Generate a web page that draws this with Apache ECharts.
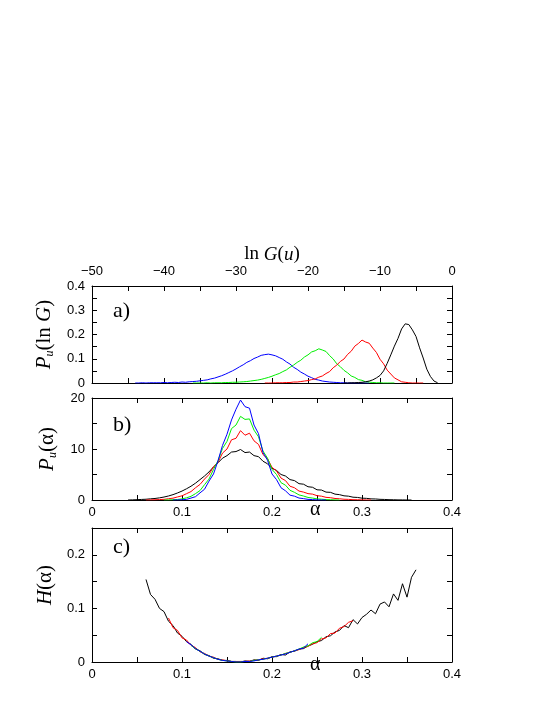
<!DOCTYPE html>
<html>
<head>
<meta charset="utf-8">
<script src="https://cdn.jsdelivr.net/npm/echarts@6/dist/echarts.min.js"></script>
<style>
  html, body { margin: 0; padding: 0; background: #fff; }
  #chart { width: 545px; height: 705px; }
</style>
</head>
<body>
<div id="chart"></div>
<script>
// ---- panel a) : P_u(ln G) against ln G ----
const lnG = [
  -45, -44.5, -44, -43.5, -43, -42.5, -42, -41.5, -41, -40.5,
  -40, -39.5, -39, -38.5, -38, -37.5, -37, -36.5, -36, -35.5,
  -35, -34.5, -34, -33.5, -33, -32.5, -32, -31.5, -31, -30.5,
  -30, -29.5, -29, -28.5, -28, -27.5, -27, -26.5, -26, -25.5,
  -25, -24.5, -24, -23.5, -23, -22.5, -22, -21.5, -21, -20.5,
  -20, -19.5, -19, -18.5, -18, -17.5, -17, -16.5, -16, -15.5,
  -15, -14.5, -14, -13.5, -13, -12.5, -12, -11.5, -11, -10.5,
  -10, -9.5, -9, -8.5, -8, -7.5, -7, -6.5, -6, -5.5,
  -5, -4.5, -4, -3.5, -3, -2.5, -2
];
const aBlue = [
  null, null, 0, 0, 0.001, 0, 0.001, 0.001, 0.001, 0.001,
  0.002, 0.001, 0.002, 0.003, 0.002, 0.004, 0.003, 0.005, 0.006, 0.007,
  0.009, 0.011, 0.013, 0.017, 0.020, 0.025, 0.030, 0.036, 0.043, 0.050,
  0.058, 0.067, 0.075, 0.085, 0.092, 0.101, 0.107, 0.114, 0.117, 0.119,
  0.116, 0.112, 0.105, 0.098, 0.087, 0.078, 0.065, 0.056, 0.045, 0.037,
  0.028, 0.022, 0.015, 0.012, 0.008, 0.006, 0.004, 0.003, 0.002, 0.001,
  0.001, 0, 0, 0, 0, 0, 0, 0, null, null,
  null, null, null, null, null, null, null, null, null, null,
  null, null, null, null, null, null, null
];
const aGreen = [
  null, null, null, null, null, null, null, null, null, null,
  null, null, null, null, null, null, null, null, 0, 0,
  0, 0, 0.001, 0, 0.001, 0.001, 0.001, 0.002, 0.002, 0.003,
  0.003, 0.004, 0.005, 0.006, 0.008, 0.010, 0.012, 0.015, 0.019, 0.023,
  0.028, 0.034, 0.039, 0.047, 0.054, 0.065, 0.074, 0.085, 0.094, 0.107,
  0.116, 0.128, 0.133, 0.141, 0.136, 0.130, 0.113, 0.099, 0.079, 0.067,
  0.052, 0.042, 0.029, 0.023, 0.014, 0.011, 0.005, 0.004, 0.002, 0.001,
  0.001, 0, 0, 0, 0, null, null, null, null, null,
  null, null, null, null, null, null, null
];
const aRed = [
  null, null, null, null, null, null, null, null, null, null,
  null, null, null, null, null, null, null, null, null, null,
  null, null, null, null, null, null, null, null, null, null,
  null, null, null, null, null, null, null, null, 0, 0,
  0, 0.001, 0.001, 0.001, 0.002, 0.002, 0.004, 0.004, 0.006, 0.008,
  0.010, 0.014, 0.017, 0.024, 0.029, 0.039, 0.047, 0.063, 0.074, 0.089,
  0.099, 0.118, 0.131, 0.152, 0.163, 0.177, 0.169, 0.164, 0.144, 0.126,
  0.098, 0.079, 0.053, 0.037, 0.021, 0.013, 0.005, 0.003, 0.001, 0,
  0, 0, 0, null, null, null, null
];
const aBlack = [
  null, null, null, null, null, null, null, null, null, null,
  null, null, null, null, null, null, null, null, null, null,
  null, null, null, null, null, null, null, null, null, null,
  null, null, null, null, null, null, null, null, null, null,
  null, null, null, null, null, null, null, null, null, null,
  null, null, null, null, null, null, null, null, null, null,
  0, 0, 0.001, 0.001, 0.002, 0.003, 0.005, 0.008, 0.013, 0.021,
  0.031, 0.050, 0.081, 0.116, 0.152, 0.184, 0.223, 0.244, 0.241, 0.219,
  0.192, 0.145, 0.103, 0.057, 0.027, 0.008, 0.001
];

// ---- panels b) and c) : shared alpha grid ----
const alpha = [
  0.03, 0.035, 0.04, 0.045, 0.05, 0.055, 0.06, 0.065, 0.07, 0.075,
  0.08, 0.085, 0.09, 0.095, 0.1, 0.105, 0.11, 0.115, 0.12, 0.125,
  0.13, 0.135, 0.14, 0.145, 0.15, 0.155, 0.16, 0.165, 0.17, 0.175,
  0.18, 0.185, 0.19, 0.195, 0.2, 0.205, 0.21, 0.215, 0.22, 0.225,
  0.23, 0.235, 0.24, 0.245, 0.25, 0.255, 0.26, 0.265, 0.27, 0.275,
  0.28, 0.285, 0.29, 0.295, 0.3, 0.305, 0.31, 0.315, 0.32, 0.325,
  0.33, 0.335, 0.34, 0.345, 0.35, 0.355, 0.36
];
// P_u(alpha)
const bBlack = [
  null, null, 0, 0.03, 0.06, 0.11, 0.15, 0.23, 0.30, 0.42,
  0.58, 0.79, 1.05, 1.38, 1.75, 2.2, 2.7, 3.3, 4.0, 4.7,
  5.5, 6.5, 7.3, 8.2, 8.7, 9.4, 9.5, 9.9, 9.3, 9.4,
  8.7, 8.5, 7.6, 7.1, 6.2, 5.8, 5.0, 4.7, 4.0, 3.8,
  3.2, 3.1, 2.6, 2.5, 2.0, 1.95, 1.55, 1.5, 1.15, 1.05,
  0.82, 0.75, 0.55, 0.5, 0.36, 0.32, 0.22, 0.2, 0.13, 0.11,
  0.06, 0.05, 0.02, 0.02, 0, 0, null
];
const bRed = [
  null, null, null, null, null, null, 0, 0.02, 0.04, 0.09,
  0.13, 0.25, 0.36, 0.60, 0.82, 1.24, 1.65, 2.4, 3.05, 4.1,
  5.0, 6.5, 7.4, 9.2, 10.0, 11.8, 12.1, 13.6, 12.7, 13.1,
  11.6, 10.9, 8.9, 8.1, 6.4, 5.7, 4.3, 3.8, 2.7, 2.4,
  1.75, 1.55, 1.25, 1.15, 0.85, 0.75, 0.52, 0.45, 0.3, 0.24,
  0.15, 0.12, 0.06, 0.05, 0.02, 0.01, 0, null, null, null,
  null, null, null, null, null, null, null
];
const bGreen = [
  null, null, null, null, null, null, null, null, null, null,
  0, 0.02, 0.05, 0.11, 0.22, 0.43, 0.72, 1.25, 1.85, 3.0,
  4.1, 6.0, 7.7, 10.1, 11.5, 14.0, 14.7, 16.4, 15.8, 15.9,
  13.7, 12.4, 9.6, 8.2, 6.0, 5.0, 3.4, 2.9, 1.9, 1.5,
  1.0, 0.78, 0.5, 0.38, 0.22, 0.16, 0.08, 0.06, 0.02, 0,
  null, null, null, null, null, null, null, null, null, null,
  null, null, null, null, null, null, null
];
const bBlue = [
  null, null, null, null, null, null, null, null, null, null,
  null, null, 0, 0.02, 0.05, 0.12, 0.38, 0.65, 1.4, 2.1,
  3.7, 5.1, 7.7, 10.7, 12.9, 15.7, 17.8, 19.6, 18.3, 18.0,
  14.7, 13.0, 9.3, 7.8, 5.1, 4.0, 2.4, 1.8, 0.95, 0.75,
  0.38, 0.27, 0.12, 0.08, 0.02, 0.01, 0, null, null, null,
  null, null, null, null, null, null, null, null, null, null,
  null, null, null, null, null, null, null
];
// H(alpha)
const cBlack = [
  null, null, null, null, null, null, 0.154, 0.126, 0.117, 0.100,
  0.094, 0.076, 0.068, 0.054, 0.048, 0.038, 0.033, 0.024, 0.021, 0.014,
  0.012, 0.007, 0.006, 0.003, 0.003, 0.001, 0.001, 0, 0.002, 0.001,
  0.004, 0.003, 0.007, 0.006, 0.010, 0.010, 0.014, 0.013, 0.019, 0.020,
  0.024, 0.025, 0.030, 0.033, 0.038, 0.040, 0.047, 0.049, 0.056, 0.059,
  0.068, 0.064, 0.079, 0.071, 0.083, 0.089, 0.097, 0.090, 0.108, 0.112,
  0.103, 0.127, 0.115, 0.146, 0.121, 0.158, 0.172
];
const cRed = [
  null, null, null, null, null, null, null, null, null, null,
  null, 0.082, 0.064, 0.059, 0.045, 0.041, 0.031, 0.027, 0.019, 0.016,
  0.011, 0.009, 0.005, 0.004, 0.002, 0.001, 0.001, 0.001, 0.001, 0.002,
  0.003, 0.004, 0.006, 0.007, 0.009, 0.011, 0.013, 0.016, 0.018, 0.021,
  0.023, 0.027, 0.029, 0.034, 0.036, 0.043, 0.045, 0.053, 0.054, 0.063,
  0.066, 0.074, 0.077, null, null, null, null, null, null, null,
  null, null, null, null, null, null, null
];
const cGreen = [
  null, null, null, null, null, null, null, null, null, null,
  null, null, null, null, null, null, 0.031, 0.025, 0.020, 0.015,
  0.011, 0.008, 0.005, 0.003, 0.002, 0.001, 0, 0, 0.001, 0.001,
  0.003, 0.004, 0.005, 0.007, 0.009, 0.011, 0.013, 0.016, 0.018, 0.021,
  0.024, 0.028, 0.030, 0.036, 0.038, 0.046, null, null, null, null,
  null, null, null, null, null, null, null, null, null, null,
  null, null, null, null, null, null, null
];
const cBlue = [
  null, null, null, null, null, null, null, null, null, null,
  null, null, null, null, null, 0.038, 0.032, 0.025, 0.020, 0.015,
  0.011, 0.008, 0.005, 0.003, 0.002, 0.001, 0, 0, 0.001, 0.001,
  0.002, 0.004, 0.005, 0.007, 0.009, 0.011, 0.013, 0.015, 0.018, 0.021,
  0.024, 0.026, 0.034, null, null, null, null, null, null, null,
  null, null, null, null, null, null, null, null, null, null,
  null, null, null, null, null, null, null
];

const SANS = '"Liberation Sans", Arial, sans-serif';
const SERIF = '"Liberation Serif", "Times New Roman", serif';
const colors = { black: '#000000', red: '#ff0000', green: '#00ee00', blue: '#0000ff' };

function pairs(xs, ys) {
  const out = [];
  xs.forEach((x, i) => { if (ys[i] !== null) out.push([x, ys[i]]); });
  return out;
}

// label only every `major`, ticks every `step`
function makeAxis(gridIndex, position, min, max, step, major, showLabels, margin) {
  return {
    type: 'value', gridIndex, position, min, max, interval: step,
    axisLine: { show: true, onZero: false, lineStyle: { color: '#000', width: 1 } },
    axisTick: { show: true, inside: true, length: 5, lineStyle: { color: '#000', width: 1 } },
    splitLine: { show: false },
    axisLabel: {
      show: showLabels, color: '#000', fontFamily: SANS, fontSize: 13, margin: margin || 7,
      formatter: v => {
        const k = v / major;
        if (Math.abs(k - Math.round(k)) > 1e-6) return '';
        const s = String(+Math.abs(v).toFixed(3));
        return v < 0 ? '\u2212' + s : s;
      }
    }
  };
}

function richFor(size) {
  return {
    i: { fontFamily: SERIF, fontStyle: 'italic', fontSize: size, color: '#000' },
    r: { fontFamily: SERIF, fontSize: size, color: '#000' },
    s: { fontFamily: SERIF, fontStyle: 'italic', fontSize: 12, color: '#000', verticalAlign: 'bottom', padding: [12, 0, 0, 0] }
  };
}

const xAxes = [
  makeAxis(0, 'bottom', -50, 0, 5, 10, false),
  Object.assign(makeAxis(0, 'top', -50, 0, 5, 10, true, 8), {
    name: '{r|ln }{i|G}{r|(}{i|u}{r|)}', nameLocation: 'middle', nameGap: 22,
    nameTextStyle: { rich: richFor(19) }
  }),
  makeAxis(1, 'bottom', 0, 0.4, 0.05, 0.1, true, 6),
  makeAxis(1, 'top', 0, 0.4, 0.05, 0.1, false),
  makeAxis(2, 'bottom', 0, 0.4, 0.05, 0.1, true, 6),
  makeAxis(2, 'top', 0, 0.4, 0.05, 0.1, false)
];
const yAxes = [
  Object.assign(makeAxis(0, 'left', 0, 0.4, 0.05, 0.1, true), {
    name: '{i|P}{s|u}{r|(ln }{i|G}{r|)}', nameLocation: 'middle', nameGap: 33, nameRotate: 90,
    nameTextStyle: { rich: richFor(21) }
  }),
  makeAxis(0, 'right', 0, 0.4, 0.05, 0.1, false),
  Object.assign(makeAxis(1, 'left', 0, 20, 5, 10, true), {
    name: '{i|P}{s|u}{r|(\u03b1)}', nameLocation: 'middle', nameGap: 33, nameRotate: 90,
    nameTextStyle: { rich: richFor(21) }
  }),
  makeAxis(1, 'right', 0, 20, 5, 10, false),
  Object.assign(makeAxis(2, 'left', 0, 0.25, 0.05, 0.1, true), {
    name: '{i|H}{r|(\u03b1)}', nameLocation: 'middle', nameGap: 33, nameRotate: 90,
    nameTextStyle: { rich: richFor(21), padding: [0, 0, 0, 20] }
  }),
  makeAxis(2, 'right', 0, 0.25, 0.05, 0.1, false)
];

function line(name, xs, ys, color, xi, yi) {
  return {
    name, type: 'line', xAxisIndex: xi, yAxisIndex: yi,
    data: pairs(xs, ys), showSymbol: false, symbol: 'none',
    lineStyle: { color, width: 1 }, itemStyle: { color }
  };
}

const chart = echarts.init(document.getElementById('chart'));
chart.setOption({
  animation: false,
  backgroundColor: '#fff',
  grid: [
    { left: 92, top: 286, width: 360, height: 97, outerBoundsMode: 'none' },
    { left: 92, top: 398, width: 360, height: 102, outerBoundsMode: 'none' },
    { left: 92, top: 528, width: 360, height: 134, outerBoundsMode: 'none' }
  ],
  xAxis: xAxes,
  yAxis: yAxes,
  series: [
    line('a blue', lnG, aBlue, colors.blue, 0, 0),
    line('a green', lnG, aGreen, colors.green, 0, 0),
    line('a red', lnG, aRed, colors.red, 0, 0),
    line('a black', lnG, aBlack, colors.black, 0, 0),
    line('b black', alpha, bBlack, colors.black, 2, 2),
    line('b red', alpha, bRed, colors.red, 2, 2),
    line('b green', alpha, bGreen, colors.green, 2, 2),
    line('b blue', alpha, bBlue, colors.blue, 2, 2),
    line('c black', alpha, cBlack, colors.black, 4, 4),
    line('c red', alpha, cRed, colors.red, 4, 4),
    line('c green', alpha, cGreen, colors.green, 4, 4),
    line('c blue', alpha, cBlue, colors.blue, 4, 4)
  ],
  graphic: [
    { type: 'text', left: 113, top: 300, style: { text: 'a)', font: '22px ' + SERIF, fill: '#000' } },
    { type: 'text', left: 113, top: 414, style: { text: 'b)', font: '22px ' + SERIF, fill: '#000' } },
    { type: 'text', left: 113, top: 536, style: { text: 'c)', font: '22px ' + SERIF, fill: '#000' } },
    { type: 'text', left: 310, top: 500, style: { text: '\u03b1', font: '20px ' + SERIF, fill: '#000' } },
    { type: 'text', left: 310, top: 655, style: { text: '\u03b1', font: '20px ' + SERIF, fill: '#000' } }
  ]
});
</script>
</body>
</html>
